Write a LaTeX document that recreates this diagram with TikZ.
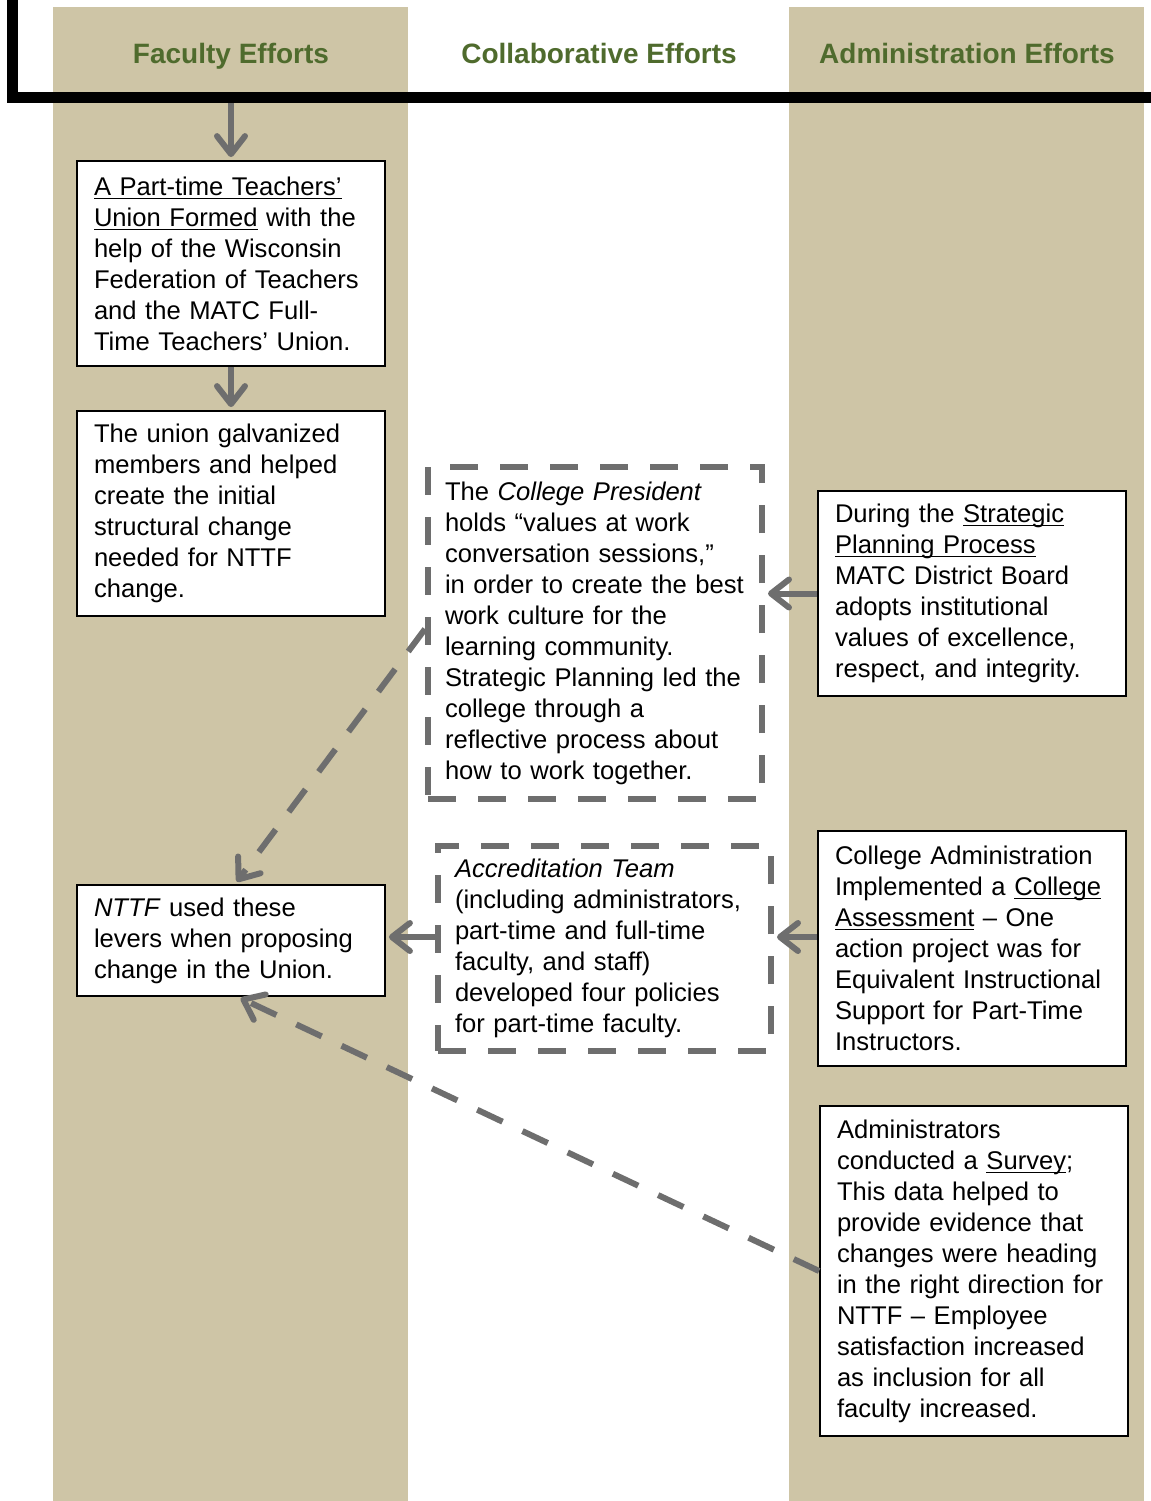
\documentclass[tikz,border=0pt]{standalone}
\usepackage{fontspec}
\setmainfont{Liberation Sans}
\usepackage{tikz}
\usetikzlibrary{arrows.meta, positioning}
\definecolor{colbeige}{RGB}{206,197,166}
\definecolor{headgreen}{RGB}{79,107,45}
\definecolor{arrowgray}{RGB}{110,110,110}
\newcommand{\undl}[1]{\leavevmode\setbox0\hbox{#1}\rlap{\rule[-1.8pt]{\wd0}{0.6pt}}\box0\relax}
\tikzset{
column/.style={fill=colbeige, draw=none}, % the two shaded lanes
heading/.style={font=\fontsize{14}{17}\selectfont\bfseries, text=headgreen, anchor=base}, % lane titles
effort/.style={draw=black, line width=0.9pt, fill=white, align=left, inner xsep=8.5pt, inner ysep=0pt, text width=137pt, font=\fontsize{12.8}{15.5}\selectfont}, % a plain box
joint/.style={effort, draw=arrowgray, line width=3pt, dash pattern=on 14pt off 11pt}, % a collaborative box
flow/.style={draw=arrowgray, line width=3pt, -{Straight Barb[round, length=9pt, width=14pt]}}, % solid connector
dashflow/.style={flow, dash pattern=on 14pt off 11pt}, % dashed connector
}

\begin{document}
\begin{tikzpicture}[x=0.5pt, y=-0.5pt]
        \useasboundingbox (0,0) rectangle (1151,1501);
        %% the lanes for faculty and administration
        \fill[column] (53,7) rectangle (408,1501);
        \fill[column] (789,7) rectangle (1144,1501);
        %% the black bracket under the titles
        \draw[line width=5.5pt, miter limit=10] (12.5,0) -- (12.5,97) -- (1151,97);
        \coordinate (topline) at (231,103);
        \node[heading] (facultyhead) at (231,63) {Faculty Efforts};
        \node[heading] (collabhead) at (599,63) {Collaborative Efforts};
        \node[heading] (adminhead) at (967,63) {Administration Efforts};
        %% faculty side
        \node[effort, minimum height=102.5pt] (unionbox) at (231,263.5) {\undl{A Part-time Teachers’}\\ \undl{Union Formed} with the\\ help of the Wisconsin\\ Federation of Teachers\\ and the MATC Full-\\ Time Teachers’ Union.};
        \node[effort, minimum height=102.5pt] (galvbox) at (231,513.5) {The union galvanized\\ members and helped\\ create the initial\\ structural change\\ needed for NTTF\\ change.};
        \node[effort, minimum height=55.5pt] (nttfbox) at (231,940.5) {\textit{NTTF} used these\\ levers when proposing\\ change in the Union.};
        %% collaborative boxes
        \node[joint, text width=150pt, minimum height=166pt] (presbox) at (595,633) {The \textit{College President}\\ holds “values at work\\ conversation sessions,”\\ in order to create the best\\ work culture for the\\ learning community.\\ Strategic Planning led the\\ college through a\\ reflective process about\\ how to work together.};
        \node[joint, text width=149.5pt, minimum height=102.5pt] (accbox) at (604.5,948.5) {\textit{Accreditation Team}\\ (including administrators,\\ part-time and full-time\\ faculty, and staff)\\ developed four policies\\ for part-time faculty.};
        %% administration side
        \node[effort, minimum height=102.5pt] (planbox) at (972,593.5) {During the \undl{Strategic}\\ \undl{Planning Process}\\ MATC District Board\\ adopts institutional\\ values of excellence,\\ respect, and integrity.};
        \node[effort, minimum height=117.5pt] (assessbox) at (972,948.5) {College Administration\\ Implemented a \undl{College}\\ \undl{Assessment} -- One\\ action project was for\\ Equivalent Instructional\\ Support for Part-Time\\ Instructors.};
        \node[effort, minimum height=165pt] (surveybox) at (974,1271) {Administrators\\ conducted a \undl{Survey};\\ This data helped to\\ provide evidence that\\ changes were heading\\ in the right direction for\\ NTTF -- Employee\\ satisfaction increased\\ as inclusion for all\\ faculty increased.};
        %% connectors
        \draw[flow, shorten >=1.5pt] (topline) -- (unionbox.north);
        \draw[flow, shorten >=1.5pt] (unionbox.south) -- (galvbox.north);
        \draw[dashflow, shorten >=1.5pt] ([yshift=2pt]presbox.west) -- ([xshift=2pt]nttfbox.north);
        \draw[flow, shorten >=1.5pt] (planbox.west) -- (presbox.east |- planbox.west);
        \draw[flow, shorten >=1.5pt] ([yshift=5.75pt]accbox.west) -- ([yshift=5.75pt]accbox.west -| nttfbox.east);
        \draw[flow, shorten >=1.5pt] ([yshift=5.75pt]assessbox.west) -- ([yshift=5.75pt]accbox.east);
        \draw[dashflow, shorten >=1.5pt] (surveybox.west) -- ([xshift=3.5pt]nttfbox.south);
    \end{tikzpicture}
\end{document}
